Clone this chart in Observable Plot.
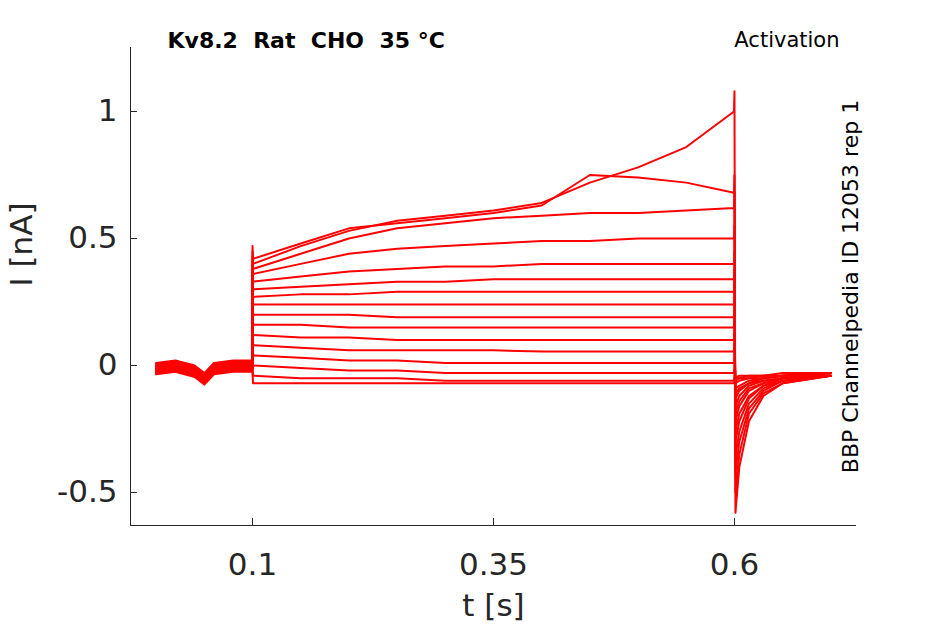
<!DOCTYPE html>
<html><head>
<script src="https://cdn.jsdelivr.net/npm/d3@7"></script>
<script src="https://cdn.jsdelivr.net/npm/@observablehq/plot@0.6"></script>
<style>body{margin:0;background:#fff}svg{font-family:"DejaVu Sans",sans-serif}</style>
</head><body><div id="c"></div>
<script>
const stepT = [0.1,0.15,0.2,0.25,0.3,0.35,0.4,0.45,0.5,0.55,0.6];
const steps = [
 [0.40,0.47,0.53,0.57,0.59,0.61,0.64,0.72,0.78,0.86,1.0],
 [0.42,0.48,0.54,0.56,0.58,0.60,0.63,0.75,0.74,0.72,0.68],
 [0.38,0.44,0.50,0.54,0.56,0.58,0.59,0.60,0.60,0.61,0.62],
 [0.36,0.40,0.44,0.46,0.47,0.48,0.49,0.49,0.50,0.50,0.50],
 [0.33,0.35,0.37,0.38,0.39,0.39,0.40,0.40,0.40,0.40,0.40],
 [0.30,0.31,0.32,0.33,0.33,0.34,0.34,0.34,0.34,0.34,0.34],
 [0.27,0.28,0.28,0.29,0.29,0.29,0.29,0.29,0.29,0.29,0.29],
 [0.24,0.24,0.24,0.24,0.24,0.24,0.24,0.24,0.24,0.24,0.24],
 [0.20,0.20,0.20,0.19,0.19,0.19,0.19,0.19,0.19,0.19,0.19],
 [0.16,0.16,0.15,0.15,0.15,0.15,0.15,0.15,0.15,0.15,0.15],
 [0.12,0.11,0.11,0.10,0.10,0.10,0.10,0.10,0.10,0.10,0.10],
 [0.08,0.07,0.06,0.06,0.06,0.06,0.055,0.055,0.055,0.055,0.055],
 [0.04,0.03,0.02,0.02,0.01,0.01,0.01,0.01,0.01,0.01,0.01],
 [0.00,-0.01,-0.02,-0.02,-0.03,-0.03,-0.03,-0.03,-0.03,-0.03,-0.03],
 [-0.04,-0.05,-0.05,-0.05,-0.06,-0.06,-0.06,-0.06,-0.06,-0.06,-0.06],
 [-0.07,-0.07,-0.07,-0.07,-0.07,-0.07,-0.07,-0.07,-0.07,-0.07,-0.07]
];
const onSpike = [0.47,0.45,0.43,0.41,0.38,0.35,0.32,0.29,0.25,0.21,0.17,0.13,0.09,0.05,0.01,-0.03];
const offSpike = [1.08,0.75,0.68,0.55,0.45,0.38,0.33,0.27,0.22,0.18,0.13,0.09,0.05,0.01,-0.03,-0.06];
const tailT = [0.601,0.605,0.615,0.63,0.65,0.7];
const tails = [
 [-0.58,-0.40,-0.22,-0.12,-0.07,-0.04],
 [-0.50,-0.35,-0.19,-0.11,-0.07,-0.04],
 [-0.42,-0.30,-0.17,-0.10,-0.06,-0.04],
 [-0.36,-0.26,-0.15,-0.09,-0.06,-0.04],
 [-0.30,-0.22,-0.13,-0.08,-0.06,-0.04],
 [-0.26,-0.19,-0.12,-0.08,-0.05,-0.04],
 [-0.22,-0.16,-0.10,-0.07,-0.05,-0.04],
 [-0.19,-0.14,-0.09,-0.07,-0.05,-0.04],
 [-0.16,-0.12,-0.08,-0.06,-0.05,-0.03],
 [-0.13,-0.10,-0.07,-0.06,-0.05,-0.03],
 [-0.11,-0.09,-0.07,-0.05,-0.04,-0.03],
 [-0.09,-0.08,-0.06,-0.05,-0.04,-0.03],
 [-0.07,-0.06,-0.05,-0.05,-0.04,-0.03],
 [-0.06,-0.05,-0.05,-0.04,-0.04,-0.03],
 [-0.05,-0.05,-0.04,-0.04,-0.04,-0.03],
 [-0.05,-0.04,-0.04,-0.04,-0.03,-0.03]
];
const baseT = [0.0,0.02,0.04,0.05,0.06,0.08,0.0999];
const baseV = [0.01,0.02,0.0,-0.03,0.01,0.02,0.02];
const xTicks = [0.1,0.35,0.6];
const yTicks = [-0.5,0,0.5,1];

const data = [];
steps.forEach((s,i)=>{
  baseT.forEach((t,j)=>data.push({k:i,t,v:baseV[j]-i*0.003}));
  data.push({k:i,t:0.1,v:onSpike[i]});
  stepT.forEach((t,j)=>data.push({k:i,t:j===0?0.1005:(j===stepT.length-1?0.5995:t),v:s[j]}));
  data.push({k:i,t:0.6,v:offSpike[i]});
  tailT.forEach((t,j)=>data.push({k:i,t,v:tails[i][j]}));
});

const plot = Plot.plot({
  width:945,height:624,marginLeft:130,marginRight:89,marginTop:47,marginBottom:99,
  x:{domain:[-0.0266,0.7266]},
  y:{domain:[-0.63,1.252]},
  style:{fontFamily:"DejaVu Sans",fontSize:"32px",color:"#262626"},
  marks:[
    Plot.line(data,{x:"t",y:"v",z:"k",stroke:"#ff0000",strokeWidth:2}),
    Plot.axisX({ticks:xTicks,tickFormat:d=>String(d),tickSize:-7,tickPadding:34,fontSize:31,label:null}),
    Plot.axisY({ticks:yTicks,tickFormat:d=>String(d),tickSize:-7,tickPadding:20,fontSize:31,label:null}),
    Plot.ruleX([-0.0266],{stroke:"#262626"}),
    Plot.ruleY([-0.63],{stroke:"#262626"}),
    Plot.text(["t [s]"],{frameAnchor:"bottom",dy:90,fontSize:31,fill:"#262626"}),
    Plot.text(["I [nA]"],{frameAnchor:"left",dx:-108,rotate:-90,fontSize:31,fill:"#262626"}),
    Plot.text(["Kv8.2  Rat  CHO  35 °C"],{frameAnchor:"top-left",dx:37,dy:-15,fontSize:22,fontWeight:"bold",fill:"#000"}),
    Plot.text(["Activation"],{frameAnchor:"top-right",dx:-17,dy:-15,fontSize:21,fill:"#000"}),
    Plot.text(["BBP Channelpedia ID 12053 rep 1"],{frameAnchor:"right",textAnchor:"middle",dx:-6,rotate:-90,fontSize:22,fill:"#000"})
  ]
});
document.getElementById("c").append(plot);
</script></body></html>
